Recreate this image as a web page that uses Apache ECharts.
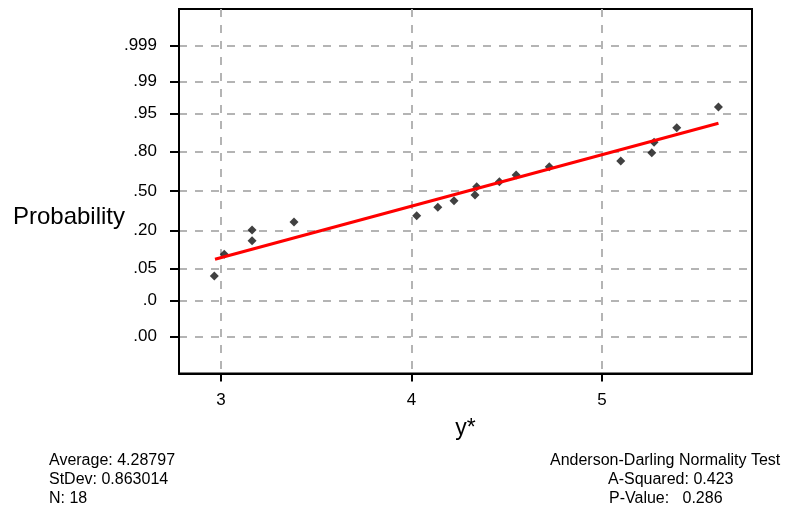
<!DOCTYPE html>
<html>
<head>
<meta charset="utf-8">
<script src="https://cdn.jsdelivr.net/npm/echarts@6/dist/echarts.min.js"></script>
<style>
html,body{margin:0;padding:0;background:#fff;}
#chart{width:786px;height:513px;}
</style>
</head>
<body>
<div id="chart"></div>
<script>
// Observed values (x = y*, p = plotted cumulative probability)
var xValues = [2.965, 3.017, 3.163, 3.163, 3.383, 4.027, 4.138, 4.223, 4.333, 4.342, 4.461, 4.549, 4.723, 5.098, 5.261, 5.273, 5.392, 5.611];
var pValues = [0.0354, 0.089, 0.145, 0.2035, 0.255, 0.300, 0.3645, 0.418, 0.466, 0.536, 0.578, 0.633, 0.697, 0.738, 0.792, 0.850, 0.911, 0.963];
// Fitted line endpoints [x, p]
var fitLine = [[2.9685, 0.0733], [5.611, 0.925]];
// Probability tick positions and their printed labels
var probTicks = [0.001, 0.01, 0.05, 0.20, 0.50, 0.80, 0.95, 0.99, 0.999];
var probLabels = ['.00', '.0', '.05', '.20', '.50', '.80', '.95', '.99', '.999'];
var xTicks = [3, 4, 5];
var statsLeft = ['Average: 4.28797', 'StDev: 0.863014', 'N: 18'];
var statsRight = ['Anderson-Darling Normality Test', 'A-Squared: 0.423', 'P-Value:   0.286'];

// inverse standard normal CDF (Acklam) — the probability axis scale
function probit(p) {
  var a = [-3.969683028665376e+01, 2.209460984245205e+02, -2.759285104469687e+02, 1.383577518672690e+02, -3.066479806614716e+01, 2.506628277459239e+00];
  var b = [-5.447609879822406e+01, 1.615858368580409e+02, -1.556989798598866e+02, 6.680131188771972e+01, -1.328068155288572e+01];
  var c = [-7.784894002430293e-03, -3.223964580411365e-01, -2.400758277161838e+00, -2.549732539343734e+00, 4.374664141464968e+00, 2.938163982698783e+00];
  var d = [7.784695709041462e-03, 3.224671290700398e-01, 2.445134137142996e+00, 3.754408661907416e+00];
  var pl = 0.02425, q, r;
  if (p < pl) {
    q = Math.sqrt(-2 * Math.log(p));
    return (((((c[0]*q+c[1])*q+c[2])*q+c[3])*q+c[4])*q+c[5]) / ((((d[0]*q+d[1])*q+d[2])*q+d[3])*q+1);
  } else if (p <= 1 - pl) {
    q = p - 0.5; r = q * q;
    return (((((a[0]*r+a[1])*r+a[2])*r+a[3])*r+a[4])*r+a[5])*q / (((((b[0]*r+b[1])*r+b[2])*r+b[3])*r+b[4])*r+1);
  } else {
    q = Math.sqrt(-2 * Math.log(1 - p));
    return -(((((c[0]*q+c[1])*q+c[2])*q+c[3])*q+c[4])*q+c[5]) / ((((d[0]*q+d[1])*q+d[2])*q+d[3])*q+1);
  }
}

var zTicks = probTicks.map(probit);
var pointData = xValues.map(function (x, i) { return [x, probit(pValues[i])]; });
var lineData = fitLine.map(function (d) { return [d[0], probit(d[1])]; });

var FONT = '"Liberation Sans", Arial, sans-serif';
var grid = {left: 179, top: 9, right: 34, bottom: 139.5};

var chart = echarts.init(document.getElementById('chart'), null, {renderer: 'canvas'});
chart.setOption({
  animation: false,
  backgroundColor: '#fff',
  grid: {left: grid.left, top: grid.top, right: grid.right, bottom: grid.bottom, show: true, borderColor: '#000', borderWidth: 2, backgroundColor: 'transparent'},
  xAxis: {
    type: 'value', min: 2.7795, max: 5.787,
    name: 'y*', nameLocation: 'middle', nameGap: 44,
    nameTextStyle: {fontFamily: FONT, fontSize: 23, color: '#000'},
    axisLine: {show: true, onZero: false, lineStyle: {color: '#000', width: 2}},
    axisTick: {show: true, customValues: xTicks, length: 8, lineStyle: {color: '#000', width: 2}},
    axisLabel: {show: true, customValues: xTicks, margin: 18, fontFamily: FONT, fontSize: 17, color: '#000'},
    splitLine: {show: true, lineStyle: {color: '#b4b4b4', width: 2, type: [8, 8]}}
  },
  yAxis: {
    type: 'value', min: -3.88, max: 3.87,
    axisLine: {show: true, onZero: false, lineStyle: {color: '#000', width: 2}},
    axisTick: {show: true, customValues: zTicks, length: 9, lineStyle: {color: '#000', width: 2}},
    axisLabel: {
      show: true, customValues: zTicks, margin: 22, fontFamily: FONT, fontSize: 17, color: '#000',
      formatter: function (v) {
        var best = 0, bd = Infinity;
        for (var i = 0; i < zTicks.length; i++) { var dd = Math.abs(zTicks[i] - v); if (dd < bd) { bd = dd; best = i; } }
        return probLabels[best];
      }
    },
    splitLine: {show: true, lineStyle: {color: '#b4b4b4', width: 2, type: [8, 8]}}
  },
  series: [
    {
      type: 'scatter', data: pointData, symbol: 'diamond', symbolSize: 9,
      itemStyle: {color: '#111'}, z: 3
    },
    {
      type: 'line', data: lineData, symbol: 'none', showSymbol: false,
      lineStyle: {color: '#ff0000', width: 3}, z: 4
    }
  ],
  graphic: [
    {type: 'text', style: {text: 'Probability', x: 125, y: 217, align: 'right', verticalAlign: 'middle', textAlign: 'right', textVerticalAlign: 'middle', font: '24px ' + FONT, fill: '#000'}},
    {type: 'text', style: {text: statsLeft.join('\n'), x: 49, y: 451, align: 'left', verticalAlign: 'top', textAlign: 'left', textVerticalAlign: 'top', font: '16px ' + FONT, lineHeight: 19, fill: '#000'}},
    {type: 'text', style: {text: statsRight[0], x: 550, y: 451, align: 'left', verticalAlign: 'top', textAlign: 'left', textVerticalAlign: 'top', font: '16px ' + FONT, lineHeight: 19, fill: '#000'}},
    {type: 'text', style: {text: statsRight[1], x: 608, y: 470, align: 'left', verticalAlign: 'top', textAlign: 'left', textVerticalAlign: 'top', font: '16px ' + FONT, lineHeight: 19, fill: '#000'}},
    {type: 'text', style: {text: statsRight[2], x: 609, y: 489, align: 'left', verticalAlign: 'top', textAlign: 'left', textVerticalAlign: 'top', font: '16px ' + FONT, lineHeight: 19, fill: '#000'}}
  ]
});
</script>
</body>
</html>
